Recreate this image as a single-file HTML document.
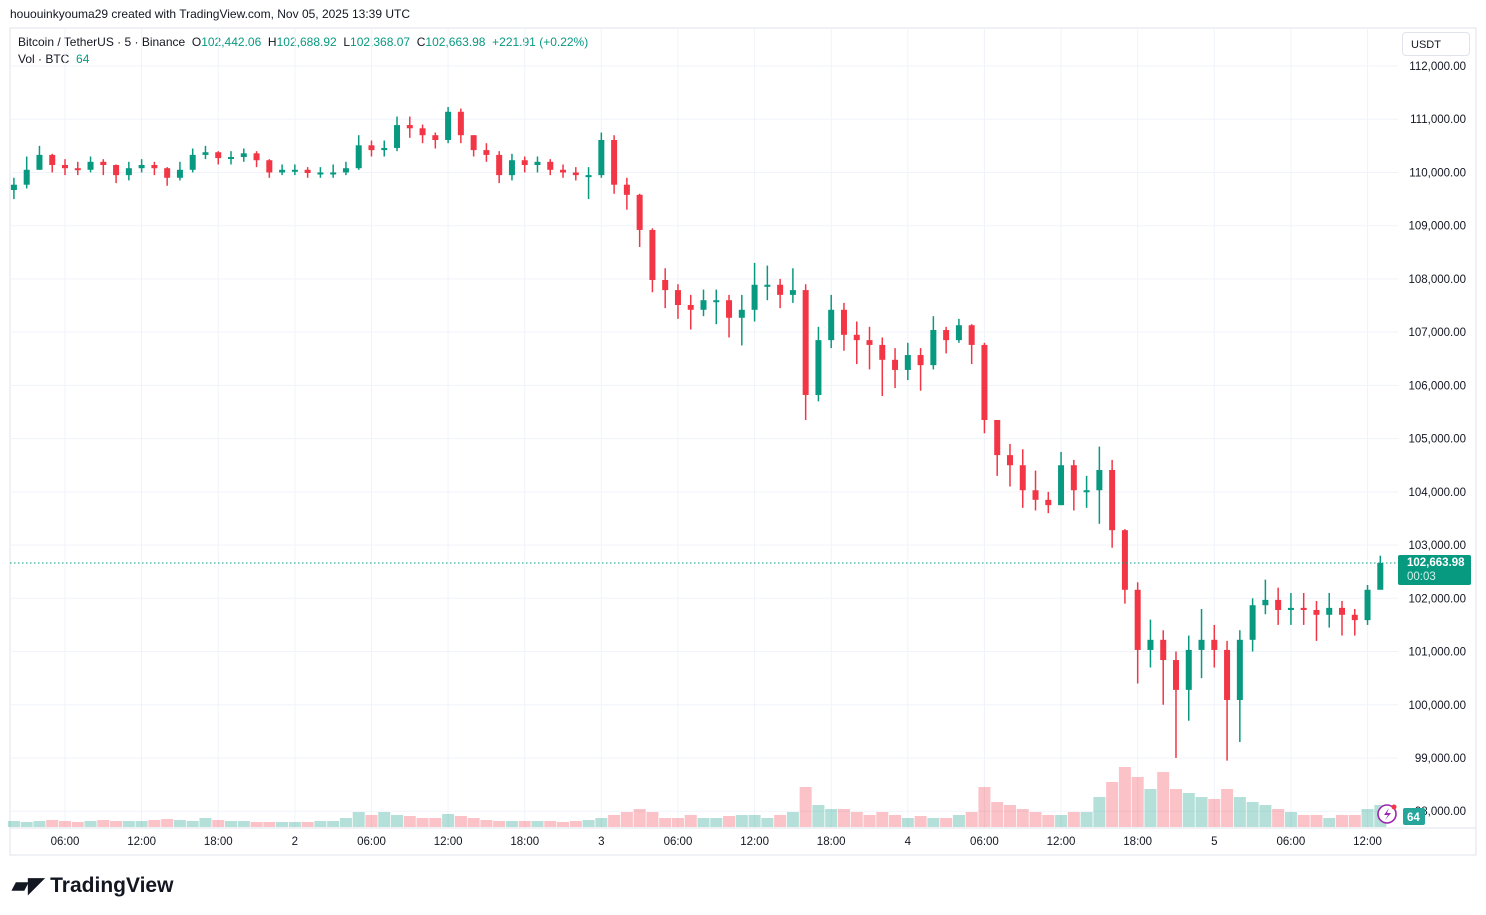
<!DOCTYPE html>
<html><head><meta charset="utf-8"><style>
body{margin:0;background:#fff;font-family:"Liberation Sans",sans-serif;width:1486px;height:915px;overflow:hidden;position:relative}
.t{position:absolute;white-space:nowrap}
</style></head><body>
<div class="t" style="left:10px;top:7px;font-size:12px;color:#131722">hououinkyouma29 created with TradingView.com, Nov 05, 2025 13:39 UTC</div>
<div class="t" style="left:18px;top:35px;font-size:12px;color:#131722">Bitcoin / TetherUS · 5 · Binance &nbsp;O<span style="color:#089981">102,442.06</span> &nbsp;H<span style="color:#089981">102,688.92</span> &nbsp;L<span style="color:#089981">102,368.07</span> &nbsp;C<span style="color:#089981">102,663.98 &nbsp;+221.91 (+0.22%)</span></div>
<div class="t" style="left:18px;top:52px;font-size:12px;color:#131722">Vol · BTC &nbsp;<span style="color:#089981">64</span></div>
<div class="t" style="left:1402px;top:32px;width:68px;height:24px;border:1px solid #e0e3eb;border-radius:4px;font-size:11px;line-height:24px;padding-left:8px;box-sizing:border-box;color:#131722">USDT</div>
<div class="t" style="left:12px;top:873px;font-size:21px;font-weight:bold;color:#131722">▰◤ TradingView</div>
<svg id="c" width="1486" height="915" style="position:absolute;left:0;top:0"></svg>
<script>
const hours=[2,3,4,5,6,7,8,9,10,11,12,13,14,15,16,17,18,19,20,21,22,23,24,25,26,27,28,29,30,31,32,33,34,35,36,37,38,39,40,41,42,43,44,45,46,47,48,49,50,51,52,53,54,55,56,57,58,59,60,61,62,63,64,65,66,67,68,69,70,71,72,73,74,75,76,77,78,79,80,81,82,83,84,85,86,87,88,89,90,91,92,93,94,95,96,97,98,99,100,101,102,103,104,105,106,107,108,109];
const closes=[109770,110050,110330,110140,110080,110050,110200,110140,109950,110080,110140,110080,109900,110050,110330,110380,110270,110290,110360,110230,110000,110050,110050,109990,110000,110000,110080,110510,110420,110460,110890,110830,110700,110610,111140,110700,110420,110330,109950,110230,110140,110200,110050,110000,109950,109950,110610,109770,109580,108920,107980,107790,107510,107420,107600,107600,107270,107420,107890,107890,107700,107790,105820,106850,107420,106950,106850,106760,106480,106290,106570,106380,107040,106850,107130,106760,105350,104690,104500,104030,103850,103750,104500,104030,104030,104410,103280,102160,101030,101220,100840,100280,101030,101220,101030,100090,101220,101870,101970,101780,101820,101780,101690,101820,101690,101590,102160,102664];
const highs=[109900,110300,110500,110350,110250,110200,110300,110250,110150,110200,110250,110200,110100,110200,110450,110500,110400,110400,110450,110400,110250,110150,110150,110100,110100,110150,110200,110700,110600,110600,111050,111050,110900,110750,111230,111200,110700,110550,110400,110350,110300,110300,110250,110150,110100,110100,110750,110700,109900,109600,108950,108200,107900,107700,107800,107800,107700,107700,108300,108250,108000,108200,107900,107100,107700,107550,107200,107100,106900,106700,106800,106700,107300,107100,107250,107150,106800,105300,104900,104800,104400,104000,104750,104600,104300,104850,104600,103300,102300,101600,101400,101000,101300,101800,101500,101200,101400,102000,102350,102200,102100,102100,101950,102100,101950,101800,102250,102800];
const lows=[109500,109700,110050,110000,109950,109950,110000,109950,109800,109850,110000,109950,109750,109850,110000,110250,110150,110150,110200,110100,109900,109950,109950,109900,109900,109900,109950,110050,110300,110300,110400,110650,110550,110450,110550,110550,110300,110200,109800,109850,110000,110000,109950,109900,109850,109500,109900,109600,109300,108600,107750,107450,107250,107050,107300,107150,106900,106750,107200,107600,107450,107550,105350,105700,106700,106650,106400,106300,105800,105950,106100,105900,106300,106600,106800,106400,105100,104300,104100,103700,103650,103600,103750,103650,103700,103400,102950,101900,100400,100700,100000,99000,99700,100500,100700,98950,99300,101000,101700,101500,101500,101500,101200,101450,101300,101300,101500,102300];
const volumes=[6,5,6,7,6,5,6,7,6,6,6,7,8,7,6,9,7,6,6,5,5,5,5,5,6,6,9,15,12,15,12,11,9,9,13,11,9,7,6,6,6,6,6,5,6,7,9,12,15,18,15,9,9,12,9,9,11,12,12,9,12,15,40,22,18,18,15,12,15,12,9,11,9,9,12,15,40,25,22,18,15,12,12,15,15,30,45,60,50,38,55,38,34,30,28,38,30,25,22,18,15,12,12,9,12,12,18,22];
const priceTicks=[112000,111000,110000,109000,108000,107000,106000,105000,104000,103000,102000,101000,100000,99000,98000];
const timeTicks=[6,12,18,24,30,36,42,48,54,60,66,72,78,84,90,96,102,108];
const timeLabels=["06:00","12:00","18:00","2","06:00","12:00","18:00","3","06:00","12:00","18:00","4","06:00","12:00","18:00","5","06:00","12:00"];
const lastPrice=102663.98;

const NS="http://www.w3.org/2000/svg",svg=document.getElementById('c');
const X=h=>65+(h-6)*12.77;
const Y=p=>66+(112000-p)*0.05323;
const VB=827, V=v=>v*1.0;
const UP="#089981",DN="#f23645";
function mk(t,a,p){const e=document.createElementNS(NS,t);for(const k in a)e.setAttribute(k,a[k]);(p||svg).appendChild(e);return e;}
let f=mk('rect',{x:10,y:28,width:1466,height:827,fill:'none',stroke:'#e0e3eb'});


priceTicks.forEach(p=>{
 const g=mk('line',{x1:10,x2:1398,y1:Y(p),y2:Y(p),stroke:'#f0f3fa'});
 
 
 const t=mk('text',{x:1466,y:Y(p)+4,'text-anchor':'end','font-size':11.5,fill:'#131722','font-family':'Liberation Sans'});
 t.textContent=p.toLocaleString('en-US',{minimumFractionDigits:2});
 
 
});
timeTicks.forEach((h,i)=>{
 const g=mk('line',{x1:X(h),x2:X(h),y1:28,y2:828,stroke:'#f0f3fa'});
 
 
 const t=mk('text',{x:X(h),y:845,'text-anchor':'middle','font-size':11.5,fill:'#131722','font-family':'Liberation Sans'});
 t.textContent=timeLabels[i];
 
 
});
mk('line',{x1:10,x2:1476,y1:828,y2:828,stroke:'#e0e3eb'});
hours.forEach((h,i)=>{
 const o=i?closes[i-1]:closes[0]-100,up=closes[i]>=o;
 const b=mk('rect',{x:X(h)-6,y:VB-V(volumes[i]),width:12,height:V(volumes[i]),fill:up?'rgba(8,153,129,0.3)':'rgba(242,54,69,0.3)'});
 
 
});
hours.forEach((h,i)=>{
 const o=i?closes[i-1]:closes[0]-100,c=closes[i],up=c>=o,col=up?UP:DN;
 const w=mk('line',{x1:X(h),x2:X(h),y1:Y(highs[i]),y2:Y(lows[i]),stroke:col,'stroke-width':1.5});
 
 
 const top=Y(Math.max(o,c)),bh=Math.max(2,Math.abs(Y(o)-Y(c)));
 const r=mk('rect',{x:X(h)-3,y:top,width:6,height:bh,fill:col});
 
 
});
const ly=Y(lastPrice);
const pl=mk('line',{x1:10,x2:1398,y1:ly,y2:ly,stroke:UP,'stroke-dasharray':'1.5 2.5'});


const lb=mk('rect',{x:1398,y:ly-8,width:73,height:30,rx:2,fill:UP});


let t1=mk('text',{x:1407,y:ly+3,'font-size':11.5,'font-weight':'bold',fill:'#fff','font-family':'Liberation Sans'});t1.textContent=lastPrice.toLocaleString('en-US',{minimumFractionDigits:2});


let t2=mk('text',{x:1407,y:ly+17,'font-size':11.5,fill:'#d0f0e8','font-family':'Liberation Sans'});t2.textContent="00:03";


const vb=mk('rect',{x:1403,y:808,width:22,height:17,rx:2,fill:'#26a69a'});


let t3=mk('text',{x:1407,y:821,'font-size':11.5,'font-weight':'bold',fill:'#fff','font-family':'Liberation Sans'});t3.textContent="64";


const ic=mk('circle',{cx:1387,cy:814,r:9,fill:'#fff',stroke:'#9c27b0','stroke-width':1.6});


mk('path',{d:'M1389 808 L1384 815 L1388 815 L1385 820 L1391 813 L1387 813 Z',fill:'#9c27b0'});
mk('circle',{cx:1394,cy:807,r:2.5,fill:'#f23645'});
</script>
</body></html>
